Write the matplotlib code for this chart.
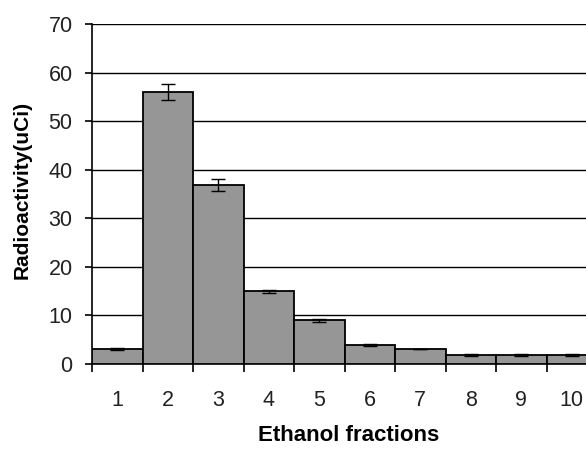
import matplotlib
matplotlib.use("Agg")
import matplotlib.pyplot as plt
import numpy as np

fractions = ["1", "2", "3", "4", "5", "6", "7", "8", "9", "10"]
activity = [3.0, 56.0, 36.8, 15.0, 9.0, 4.0, 3.0, 1.9, 1.9, 1.9]
errors = [0.2, 1.6, 1.2, 0.3, 0.3, 0.2, 0.0, 0.25, 0.25, 0.25]
yticks = [0, 10, 20, 30, 40, 50, 60, 70]

plt.rcParams['font.family'] = ['Liberation Sans', 'DejaVu Sans']

fig = plt.figure(figsize=(5.86, 4.5), dpi=100)
ax = fig.add_axes([92/586, 86/450, 505/586, 340/450])

x = np.arange(1, len(fractions) + 1)
ax.bar(x, activity, width=1.0, color="#969696", edgecolor="black", linewidth=1.3, zorder=3)
ax.errorbar(x, activity, yerr=errors, fmt="none", ecolor="black", elinewidth=1.0,
            capsize=5, capthick=1.0, zorder=4)

ax.set_xlim(0.5, 10.5)
ax.set_ylim(0, 70)
ax.set_yticks(yticks)
ax.yaxis.grid(True, color="black", linewidth=1.0, zorder=0)
ax.set_axisbelow(True)

ax.set_xticks(x)
ax.set_xticklabels(fractions)
ax.set_xticks(np.arange(0.5, 11.0, 1.0), minor=True)
ax.tick_params(axis="x", which="major", length=0, pad=19, labelsize=15.5, labelcolor="#222222")
ax.tick_params(axis="x", which="minor", length=6, width=1.2, direction="out")
ax.tick_params(axis="y", length=5, width=1.2, pad=9, labelsize=15.5, labelcolor="#222222")

for s in ["top", "right"]:
    ax.spines[s].set_visible(False)
ax.spines["left"].set_linewidth(1.2)
ax.spines["bottom"].set_linewidth(1.2)

ax.set_xlabel("Ethanol fractions", fontsize=16, fontweight="bold")
ax.set_ylabel("Radioactivity(uCi)", fontsize=15, fontweight="bold")
ax.xaxis.set_label_coords(0.508, -0.18)
ax.yaxis.set_label_coords(-0.12, 0.512)

fig.savefig("out.png", dpi=100)
